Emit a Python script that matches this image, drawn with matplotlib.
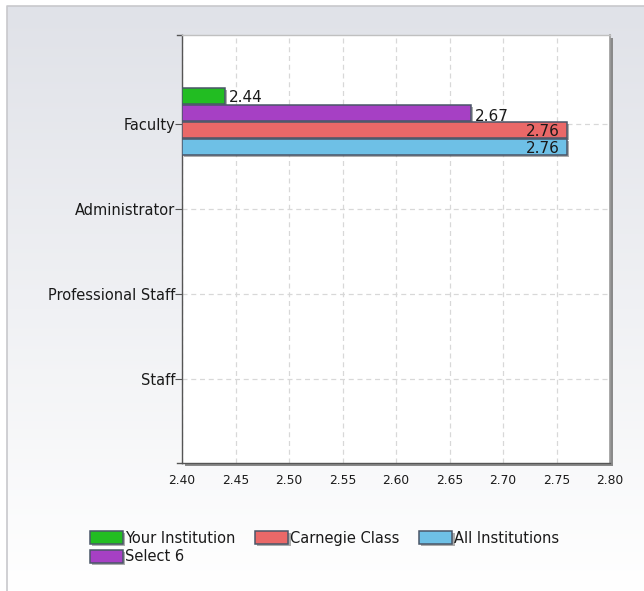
import matplotlib
matplotlib.use("Agg")
import matplotlib.pyplot as plt
import numpy as np
from matplotlib.patches import Rectangle
import matplotlib.patheffects as pe

categories = ["Faculty", "Administrator", "Professional Staff", "Staff"]
series_names = ["Your Institution", "Select 6", "Carnegie Class", "All Institutions"]
series_colors = ["#22bd22", "#a640c4", "#ea6868", "#6ec0e6"]
# values per series (only Faculty has data)
your_institution = [2.44, None, None, None]
select_6 = [2.67, None, None, None]
carnegie_class = [2.76, None, None, None]
all_institutions = [2.76, None, None, None]
series_values = [your_institution, select_6, carnegie_class, all_institutions]
x_ticks = [2.40, 2.45, 2.50, 2.55, 2.60, 2.65, 2.70, 2.75, 2.80]

W, H = 644, 591
fig = plt.figure(figsize=(W / 100, H / 100), dpi=100)

# background gradient panel
bg = fig.add_axes([0, 0, 1, 1], zorder=-10)
grad = np.linspace(0, 1, 256).reshape(-1, 1)
top = np.array([0.878, 0.886, 0.910])
bot = np.array([1.0, 1.0, 1.0])
img = top[None, None, :] * (1 - grad[:, :, None]) + bot[None, None, :] * grad[:, :, None]
bg.imshow(img, aspect="auto", extent=[7, W, H, 6], origin="upper")
bg.set_xlim(0, W)
bg.set_ylim(H, 0)
bg.plot([7, 7, W], [H, 6, 6], color="#c8c8cc", lw=1.2)
bg.axis("off")

# plot area
L, R, T, B = 182, 610, 35, 463
pos = [L / W, 1 - B / H, (R - L) / W, (B - T) / H]

# shadow behind plot area
sh = Rectangle(((L + 3) / W, 1 - (B + 3) / H), (R - L) / W, (B - T) / H,
               transform=fig.transFigure, facecolor="#8a8a8a", edgecolor="none", zorder=-5)
fig.patches.append(sh)

ax = fig.add_axes(pos)
ax.set_facecolor("white")
ax.set_xlim(2.40, 2.80)
ax.set_ylim(3.99, -1.05)

offsets = [-0.33, -0.13, 0.07, 0.27]
height = 0.19
ypos = np.arange(len(categories))
for name, col, vals, off in zip(series_names, series_colors, series_values, offsets):
    for yi, v in zip(ypos, vals):
        if v is None:
            continue
        b = ax.barh(yi + off, v - 2.40, left=2.40, height=height, color=col,
                    edgecolor="#4a5668", linewidth=1.1, zorder=3, label=name)
        b[0].set_path_effects([pe.SimplePatchShadow(offset=(1.5, -1.5), shadow_rgbFace="#777777", alpha=0.6), pe.Normal()])
        if v >= 2.74:
            ax.text(v - 0.007, yi + off + 0.02, f"{v:.2f}", ha="right", va="center",
                    fontsize=11, color="#1a1a1a", zorder=5)
        else:
            ax.text(v + 0.004, yi + off + 0.04 if name == "Select 6" else yi + off + 0.02,
                    f"{v:.2f}", ha="left", va="center", fontsize=11, color="#1a1a1a", zorder=5)

ax.set_yticks(ypos)
ax.set_yticklabels(categories, fontsize=10.5, color="#1a1a1a")
ax.set_xticks(x_ticks)
ax.set_xticklabels([f"{t:.2f}" for t in x_ticks], fontsize=8.8, color="#1a1a1a")
ax.tick_params(axis="y", length=5, color="#555555", direction="out", pad=0)
ax.tick_params(axis="x", length=0, pad=8)
ax.grid(True, linestyle=(0, (4, 3)), color="#d8d8d8", linewidth=0.9, zorder=0)
ax.set_axisbelow(True)

ax.spines["top"].set_color("#c0c0c0")
ax.spines["top"].set_linewidth(1.0)
ax.spines["right"].set_color("#9a9a9a")
ax.spines["right"].set_linewidth(1.2)
ax.spines["left"].set_color("#555555")
ax.spines["bottom"].set_color("#555555")
ax.spines["left"].set_linewidth(1.0)
ax.spines["bottom"].set_linewidth(1.0)

# small end ticks on the value/category axes
ax.plot([-0.012, 0], [0, 0], transform=ax.transAxes, color="#555555", lw=1, clip_on=False)
ax.plot([-0.012, 0], [1, 1], transform=ax.transAxes, color="#555555", lw=1, clip_on=False)

# legend
handles, labels = ax.get_legend_handles_labels()
order = ["Your Institution", "Select 6", "Carnegie Class", "All Institutions"]
hmap = dict(zip(labels, handles))
leg = fig.legend([hmap[o] for o in order], order, ncol=3, loc="upper left",
                 bbox_to_anchor=(84 / W, 1 - 525 / H), frameon=False, fontsize=10.5,
                 handlelength=2.3, handleheight=1.0, handletextpad=0.1,
                 columnspacing=1.35, labelspacing=0.25, borderaxespad=0)
for t in leg.get_texts():
    t.set_color("#1a1a1a")

fig.savefig("out.png", dpi=100)
